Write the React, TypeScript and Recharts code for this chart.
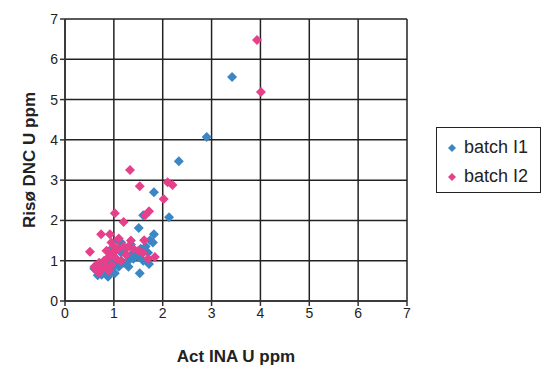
import { CartesianGrid, Scatter, ScatterChart, XAxis, YAxis, Label } from "recharts";

// batch I1 (blue) : [Act INA U, Risø DNC U]
const batchI1: [number, number][] = [
  [3.42, 5.56], [2.9, 4.07], [2.33, 3.47], [1.82, 2.7], [2.13, 2.08], [1.6, 2.13],
  [1.51, 1.81], [1.82, 1.66], [1.74, 1.51], [1.08, 1.51], [1.72, 0.92], [1.53, 0.69],
  [0.88, 0.6], [0.67, 0.64], [1.02, 0.69], [0.8, 0.75], [0.95, 0.8], [1.1, 0.85],
  [1.2, 0.95], [1.3, 1.0], [1.4, 1.05], [1.45, 1.2], [1.55, 1.3], [1.65, 1.35],
  [0.7, 0.9], [0.9, 1.0], [1.0, 1.1], [1.15, 1.2], [1.25, 1.3], [1.35, 1.4],
  [0.85, 0.7], [0.75, 0.65], [1.05, 0.95], [1.5, 1.1], [1.6, 1.0], [0.95, 1.3],
  [1.15, 1.45], [0.6, 0.8], [1.7, 1.2], [1.3, 0.85], [0.9, 0.65], [1.35, 1.15], [1.8, 1.45],
];

// batch I2 (pink)
const batchI2: [number, number][] = [
  [3.93, 6.48], [4.01, 5.19], [1.33, 3.25], [1.53, 2.85], [2.1, 2.95], [2.2, 2.88],
  [2.02, 2.53], [1.02, 2.18], [1.72, 2.23], [1.64, 2.13], [1.2, 1.96], [0.74, 1.66],
  [0.92, 1.66], [1.62, 1.51], [0.51, 1.22], [1.84, 1.09], [0.65, 0.75], [0.75, 0.8],
  [0.85, 0.85], [0.95, 0.9], [0.8, 1.0], [0.9, 1.1], [1.0, 1.2], [1.1, 1.3],
  [1.2, 1.35], [1.3, 1.35], [1.4, 1.3], [1.5, 1.25], [0.7, 0.95], [1.05, 1.05],
  [1.15, 1.0], [0.95, 1.45], [1.0, 1.35], [0.85, 1.25], [1.25, 1.15], [1.6, 1.2],
  [1.7, 1.05], [0.7, 0.7], [0.9, 0.75], [1.1, 1.55], [1.35, 1.5], [0.6, 0.85],
];

const ticks = [0, 1, 2, 3, 4, 5, 6, 7];
const seriesNames = ["batch I1", "batch I2"];
const colors = ["#3b86c4", "#e6408a"];

const toPoints = (arr: [number, number][]) => arr.map(([x, y]) => ({ x, y }));

const Marker = (color: string) => (props: any) => {
  const { cx, cy } = props;
  const r = 5;
  return (
    <polygon
      points={`${cx},${cy - r} ${cx + r},${cy} ${cx},${cy + r} ${cx - r},${cy}`}
      fill={color}
    />
  );
};

const LegendBox = () => (
  <div
    style={{
      position: "absolute",
      left: 436,
      top: 127,
      border: "1.5px solid #222",
      width: 105,
      height: 66,
      boxSizing: "border-box",
      padding: "5px 0 0 10px",
      fontSize: 18,
      color: "#222",
    }}
  >
    {seriesNames.map((n, i) => (
      <div key={n} style={{ display: "flex", alignItems: "center", height: 29 }}>
        <svg width={10} height={10} style={{ marginRight: 7 }}>
          <polygon points="5,1 9,5 5,9 1,5" fill={colors[i]} />
        </svg>
        {n}
      </div>
    ))}
  </div>
);

export default function App() {
  return (
    <div style={{ position: "absolute", left: 0, top: 0, width: 547, height: 371, background: "#fff", fontFamily: "'Liberation Sans', Arial, sans-serif" }}>
      <ScatterChart width={547} height={371} margin={{ top: 19, right: 140, bottom: 40, left: 25 }}>
        <CartesianGrid stroke="#222" strokeWidth={1.5} />
        <XAxis
          type="number"
          dataKey="x"
          domain={[0, 7]}
          ticks={ticks}
          height={30}
          stroke="#333"
          strokeWidth={1.5}
          tickSize={5}
          tick={{ fill: "#222", fontSize: 14 }}
        >
          <Label value="Act INA U ppm" position="insideBottom" offset={-31} style={{ fontWeight: "bold", fontSize: 17, fill: "#222" }} />
        </XAxis>
        <YAxis
          type="number"
          dataKey="y"
          domain={[0, 7]}
          ticks={ticks}
          width={40}
          stroke="#333"
          strokeWidth={1.5}
          tickSize={5}
          tick={{ fill: "#222", fontSize: 14 }}
        >
          <Label value="Risø DNC U ppm" angle={-90} position="insideLeft" offset={4} style={{ fontWeight: "bold", fontSize: 17, fill: "#222", textAnchor: "middle" }} />
        </YAxis>
        <Scatter name={seriesNames[0]} data={toPoints(batchI1)} shape={Marker(colors[0])} isAnimationActive={false} />
        <Scatter name={seriesNames[1]} data={toPoints(batchI2)} shape={Marker(colors[1])} isAnimationActive={false} />
      </ScatterChart>
      <LegendBox />
    </div>
  );
}
